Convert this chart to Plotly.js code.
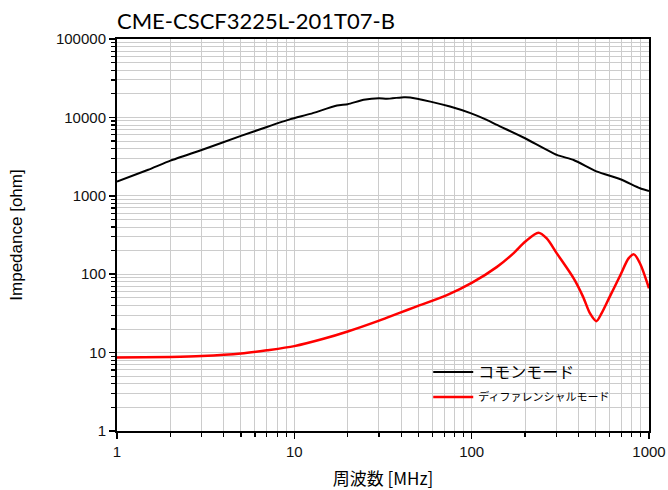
<!DOCTYPE html>
<html><head><meta charset="utf-8">
<script src="https://cdn.plot.ly/plotly-3.0.1.min.js"></script>
<style>html,body{margin:0;padding:0;background:#fff}</style>
</head><body>
<div id="chart" style="width:668px;height:490px"></div>
<script>
const chartTitle = "CME-CSCF3225L-201T07-B";
const xTitle = "周波数 [MHz]";
const yTitle = "Impedance [ohm]";
const seriesCommon = "コモンモード";
const seriesDiff = "ディファレンシャルモード";

const commonFreq = [1, 1.5, 2, 3, 5, 7, 9.5, 12.3, 17.4, 20, 24.6, 30, 33.2, 41.5, 45, 58.5, 75.5, 98.5, 121.7, 139, 200, 302, 376, 510, 690, 890, 1000];
const commonZ =    [1514, 2150, 2806, 3846, 5805, 7550, 9500, 11090, 14150, 14730, 16750, 17600, 17300, 18120, 18000, 15900, 13740, 11330, 9290, 8010, 5420, 3320, 2865, 2030, 1626, 1248, 1151];

const diffFreq = [1, 2, 3, 5, 7, 10, 14.6, 20, 29.8, 39.2, 47, 72.5, 100.6, 139, 172, 200, 238, 265, 302, 376, 425, 465, 505, 540, 600, 690, 767, 822, 890, 1000];
const diffZ =    [8.66, 8.82, 9.05, 9.73, 10.7, 12.1, 15.0, 18.6, 25.4, 32.1, 37.5, 54, 78, 124, 184.5, 259, 338, 286, 184.5, 88.3, 51.4, 31.6, 25.2, 31.6, 51.4, 97.5, 159, 179, 137, 66];

const xTickVals = [1, 10, 100, 1000];
const xTickText = ["1", "10", "100", "1000"];
const yTickVals = [1, 10, 100, 1000, 10000, 100000];
const yTickText = ["1", "10", "100", "1000", "10000", "100000"];

const traces = [
  {x: commonFreq, y: commonZ, name: seriesCommon, type: 'scatter', mode: 'lines',
   line: {color: '#000000', width: 2, shape: 'spline', smoothing: 0.5}, legend: 'legend'},
  {x: diffFreq, y: diffZ, name: seriesDiff, type: 'scatter', mode: 'lines',
   line: {color: '#ff0000', width: 2.5, shape: 'spline', smoothing: 0.8}, legend: 'legend2'}
];

const gridColor = '#cccccc';
const axisCommon = {
  type: 'log', showline: true, linecolor: '#000', linewidth: 2, mirror: true,
  ticks: 'outside', ticklen: 6, tickwidth: 1.5, tickcolor: '#000',
  showgrid: true, gridcolor: gridColor, gridwidth: 1, zeroline: false,
  tickfont: {family: 'Liberation Sans, Arial, sans-serif', size: 15, color: '#111'},
  minor: {dtick: 'D1', ticks: 'outside', ticklen: 4, tickwidth: 1.2, tickcolor: '#000', showgrid: true, gridcolor: gridColor, gridwidth: 1}
};

const layout = {
  width: 668, height: 490,
  margin: {l: 117, r: 19, t: 39, b: 59},
  paper_bgcolor: '#fff', plot_bgcolor: '#fff',
  title: {text: chartTitle, x: 0, xanchor: 'left', xref: 'paper', y: 1 - 21/490, yanchor: 'middle',
          font: {family: 'Lato, Liberation Sans, sans-serif', size: 22, color: '#000'}},
  xaxis: Object.assign({}, axisCommon, {
    range: [0, 3], tickvals: xTickVals, ticktext: xTickText,
    title: {text: xTitle, standoff: 14, font: {family: 'Noto Sans CJK JP, sans-serif', size: 17, color: '#000'}}
  }),
  yaxis: Object.assign({}, axisCommon, {
    range: [0, 5], tickvals: yTickVals, ticktext: yTickText,
    title: {text: yTitle, standoff: 29, font: {family: 'Liberation Sans, Arial, sans-serif', size: 17, color: '#000'}}
  }),
  legend: {x: 0.585, y: 0.15, xanchor: 'left', yanchor: 'middle', bgcolor: 'rgba(0,0,0,0)',
           font: {family: 'Noto Sans CJK JP, sans-serif', size: 16, color: '#000'}, itemwidth: 40, tracegroupgap: 0},
  legend2: {x: 0.585, y: 0.087, xanchor: 'left', yanchor: 'middle', bgcolor: 'rgba(0,0,0,0)',
           font: {family: 'Noto Sans CJK JP, sans-serif', size: 11, color: '#000'}, itemwidth: 40, tracegroupgap: 0},
  showlegend: true
};

Plotly.newPlot('chart', traces, layout, {staticPlot: true, displayModeBar: false});
</script>
</body></html>
